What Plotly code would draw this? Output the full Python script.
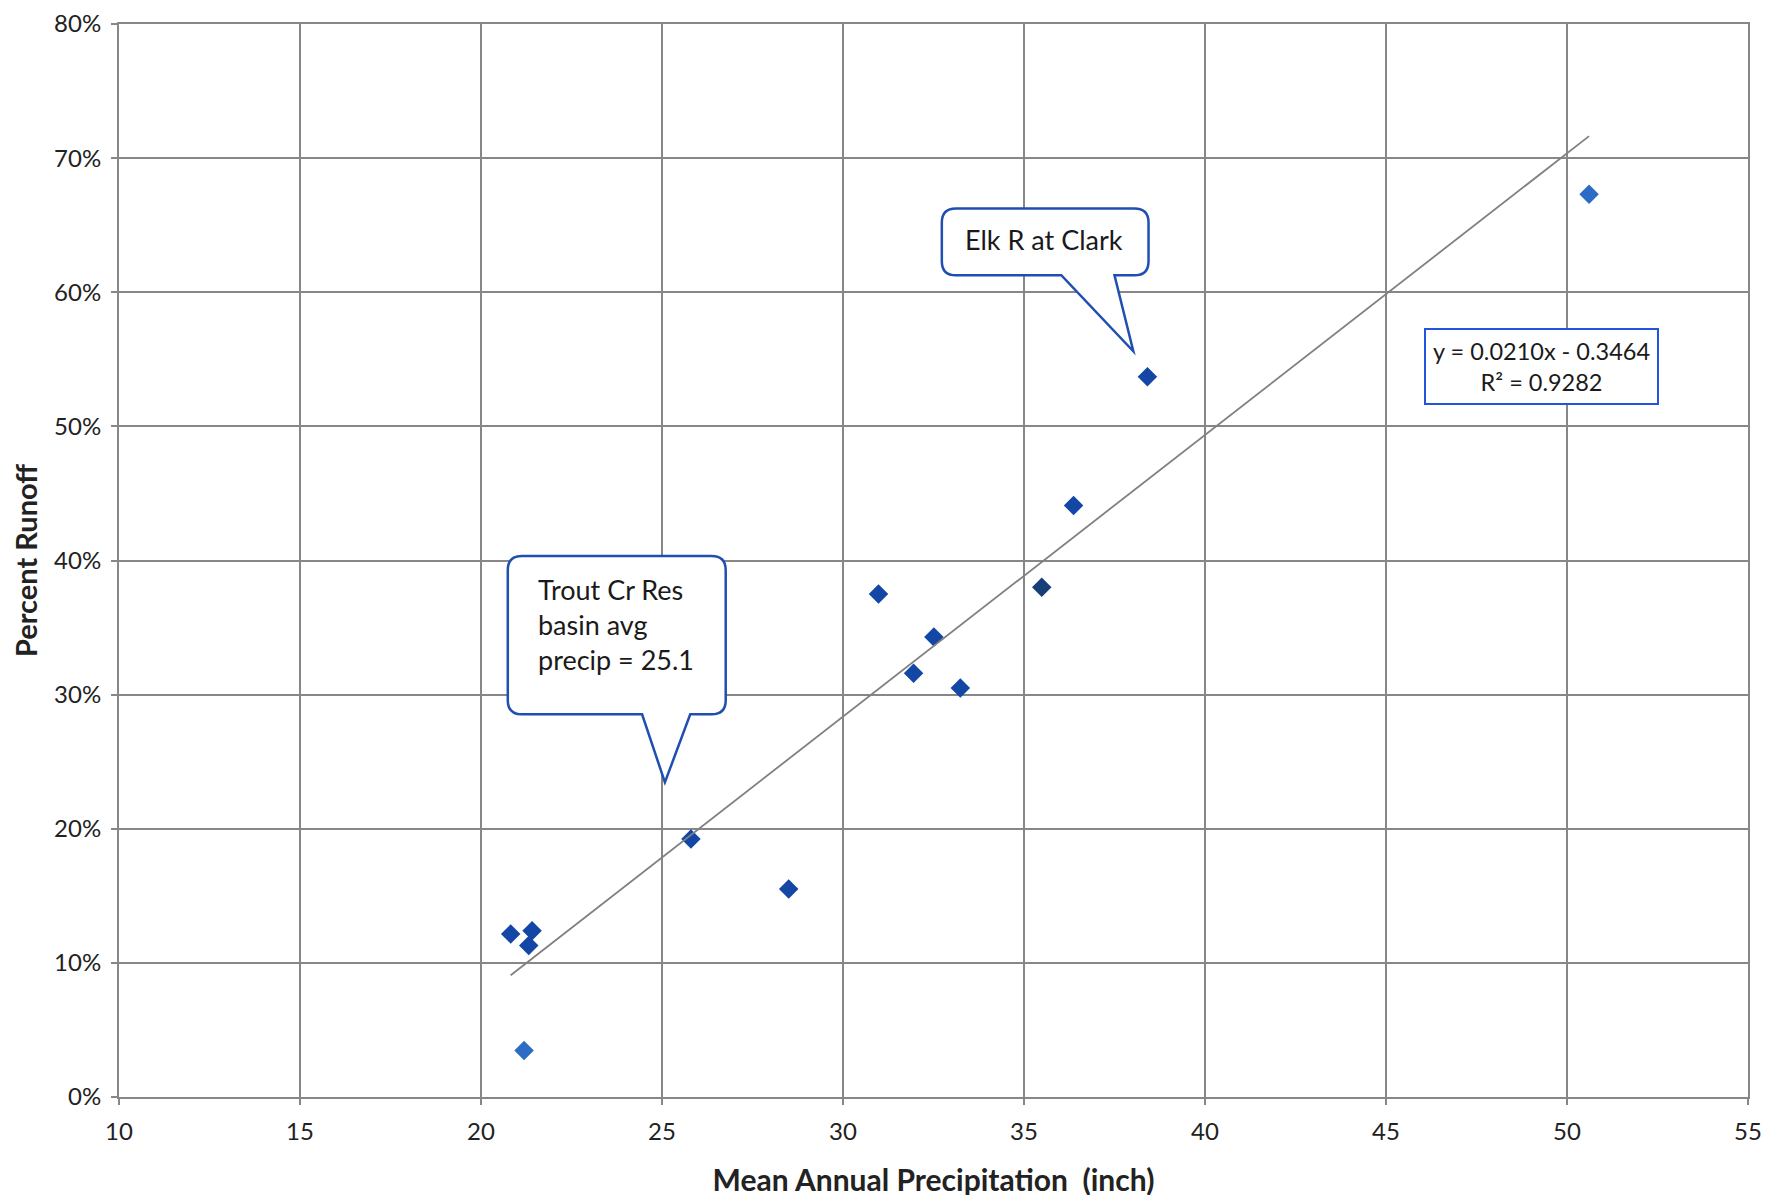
import plotly.graph_objects as go

# ---- data ----
precip = [20.82, 21.41, 21.32, 21.19, 25.80, 28.50, 30.98, 31.95, 32.51, 33.24, 35.49, 36.37, 38.41, 50.61]
runoff = [0.1215, 0.124, 0.113, 0.0346, 0.1924, 0.155, 0.375, 0.316, 0.343, 0.305, 0.380, 0.441, 0.537, 0.673]
marker_colors = ["#1446A6", "#1446A6", "#1446A6", "#2C6CC4", "#1446A6", "#1446A6", "#1446A6",
                 "#1446A6", "#1446A6", "#1446A6", "#163F78", "#1446A6", "#1446A6", "#2C6CC4"]

trend_slope = 0.0210
trend_intercept = -0.3464
trend_r2 = 0.9282

x_ticks = [10, 15, 20, 25, 30, 35, 40, 45, 50, 55]
y_ticks = [0, 0.1, 0.2, 0.3, 0.4, 0.5, 0.6, 0.7, 0.8]

FONT = "Lato"
GRID = "#878787"
CALLOUT = "#1F4FB0"
TEXT = "#1a1a1a"

fig = go.Figure()

fig.add_trace(go.Scatter(
    x=precip, y=runoff, mode="markers",
    marker=dict(symbol="diamond", size=15, color=marker_colors, line=dict(width=0)),
    showlegend=False, hoverinfo="x+y"))

tx = [min(precip), max(precip)]
ty = [trend_slope * v + trend_intercept for v in tx]
fig.add_trace(go.Scatter(x=tx, y=ty, mode="lines",
                         line=dict(color="#808080", width=1.8),
                         showlegend=False, hoverinfo="skip"))


def callout(x0, x1, y0, y1, bx0, bx1, tipx, tipy, rx=0.39, ry=0.0105):
    # y1 = top, y0 = bottom; tail on the bottom edge
    p = (f"M {x0+rx},{y1} L {x1-rx},{y1} Q {x1},{y1} {x1},{y1-ry} "
         f"L {x1},{y0+ry} Q {x1},{y0} {x1-rx},{y0} "
         f"L {bx1},{y0} L {tipx},{tipy} L {bx0},{y0} "
         f"L {x0+rx},{y0} Q {x0},{y0} {x0},{y0+ry} "
         f"L {x0},{y1-ry} Q {x0},{y1} {x0+rx},{y1} Z")
    return dict(type="path", path=p, xref="x", yref="y",
                fillcolor="white", line=dict(color=CALLOUT, width=2.5), layer="above")


fig.add_shape(callout(32.73, 38.44, 0.6127, 0.6624, 36.03, 37.5, 38.02, 0.556))
fig.add_shape(callout(20.74, 26.76, 0.2853, 0.4034, 24.45, 25.78, 25.08, 0.2346))

fig.add_annotation(x=35.55, y=0.639, xref="x", yref="y", text="Elk R at Clark",
                   showarrow=False, font=dict(family=FONT, size=27, color=TEXT))
fig.add_annotation(x=21.52, y=0.352, xref="x", yref="y",
                   text="Trout Cr Res<br>basin avg<br>precip = 25.1",
                   showarrow=False, xanchor="left", yanchor="middle", align="left",
                   font=dict(family=FONT, size=27, color=TEXT))
fig.add_annotation(x=49.29, y=0.5443, xref="x", yref="y",
                   text=f"y = {trend_slope:.4f}x - {abs(trend_intercept):.4f}<br>R² = {trend_r2:.4f}",
                   showarrow=False, align="center",
                   font=dict(family=FONT, size=23.5, color=TEXT),
                   bordercolor="#2255DD", borderwidth=2, borderpad=7, bgcolor="white")

axis_common = dict(showline=True, linecolor=GRID, linewidth=2, mirror=True,
                   showgrid=True, gridcolor=GRID, gridwidth=2,
                   ticks="outside", ticklen=6, tickcolor=GRID, tickwidth=2,
                   zeroline=False, ticklabeloverflow="allow", automargin=False,
                   tickfont=dict(family=FONT, size=24, color="#222222"))

fig.update_xaxes(range=[10, 55], tickvals=x_ticks, ticklabelstandoff=6,
                 title=dict(text="<b>Mean Annual Precipitation  (inch)</b>",
                            font=dict(family=FONT, size=30, color="#222222"), standoff=26),
                 **axis_common)
fig.update_yaxes(range=[0, 0.8], tickvals=y_ticks, tickformat=".0%", ticklabelstandoff=5,
                 title=dict(text="<b>Percent Runoff</b>",
                            font=dict(family=FONT, size=29, color="#222222"), standoff=19),
                 **axis_common)

fig.update_layout(width=1777, height=1195,
                  margin=dict(l=111, r=37, t=16, b=106),
                  paper_bgcolor="white", plot_bgcolor="white",
                  showlegend=False)

fig.write_html("out.html")
